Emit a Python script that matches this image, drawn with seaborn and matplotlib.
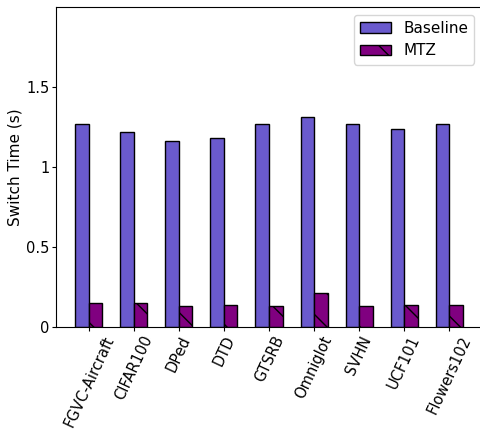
import matplotlib
matplotlib.use("Agg")
import matplotlib.pyplot as plt
import seaborn as sns
import pandas as pd

datasets = ["FGVC-Aircraft", "CIFAR100", "DPed", "DTD", "GTSRB",
            "Omniglot", "SVHN", "UCF101", "Flowers102"]
baseline = [1.27, 1.22, 1.16, 1.18, 1.27, 1.31, 1.27, 1.24, 1.27]
mtz = [0.15, 0.15, 0.13, 0.14, 0.13, 0.21, 0.13, 0.14, 0.14]
methods = ["Baseline", "MTZ"]
colores = {"Baseline": "#6A5ACD", "MTZ": "#800080"}

df = pd.DataFrame({
    "Dataset": datasets * 2,
    "Method": ["Baseline"] * len(datasets) + ["MTZ"] * len(datasets),
    "Time": baseline + mtz,
})

fs = 10.5

fig = plt.figure(figsize=(4.8, 4.33), dpi=100)
ax = fig.add_axes([56 / 480, 1 - 327 / 433, (482 - 56) / 480, 320 / 433])

sns.barplot(data=df, x="Dataset", y="Time", hue="Method", hue_order=methods,
            palette=colores, saturation=1, width=0.6, edgecolor="black",
            linewidth=1, ax=ax, legend=False)

# rayado para MTZ
for barra in ax.containers[1]:
    barra.set_hatch("\\")

ax.set_xlim(-0.73, len(datasets) - 1 + 0.73)
ax.set_ylim(0, 2)
ax.set_yticks([0, 0.5, 1, 1.5])
ax.set_yticklabels(["0", "0.5", "1", "1.5"], fontsize=fs)
ax.tick_params(axis="both", length=3, pad=1.5)
ax.set_ylabel("Switch Time (s)", fontsize=11, labelpad=3)
ax.set_xlabel("")
plt.setp(ax.get_xticklabels(), rotation=65, fontsize=fs)

ax.legend(ax.containers, methods, loc="upper right", fontsize=11)

fig.savefig("out.png", dpi=100)
